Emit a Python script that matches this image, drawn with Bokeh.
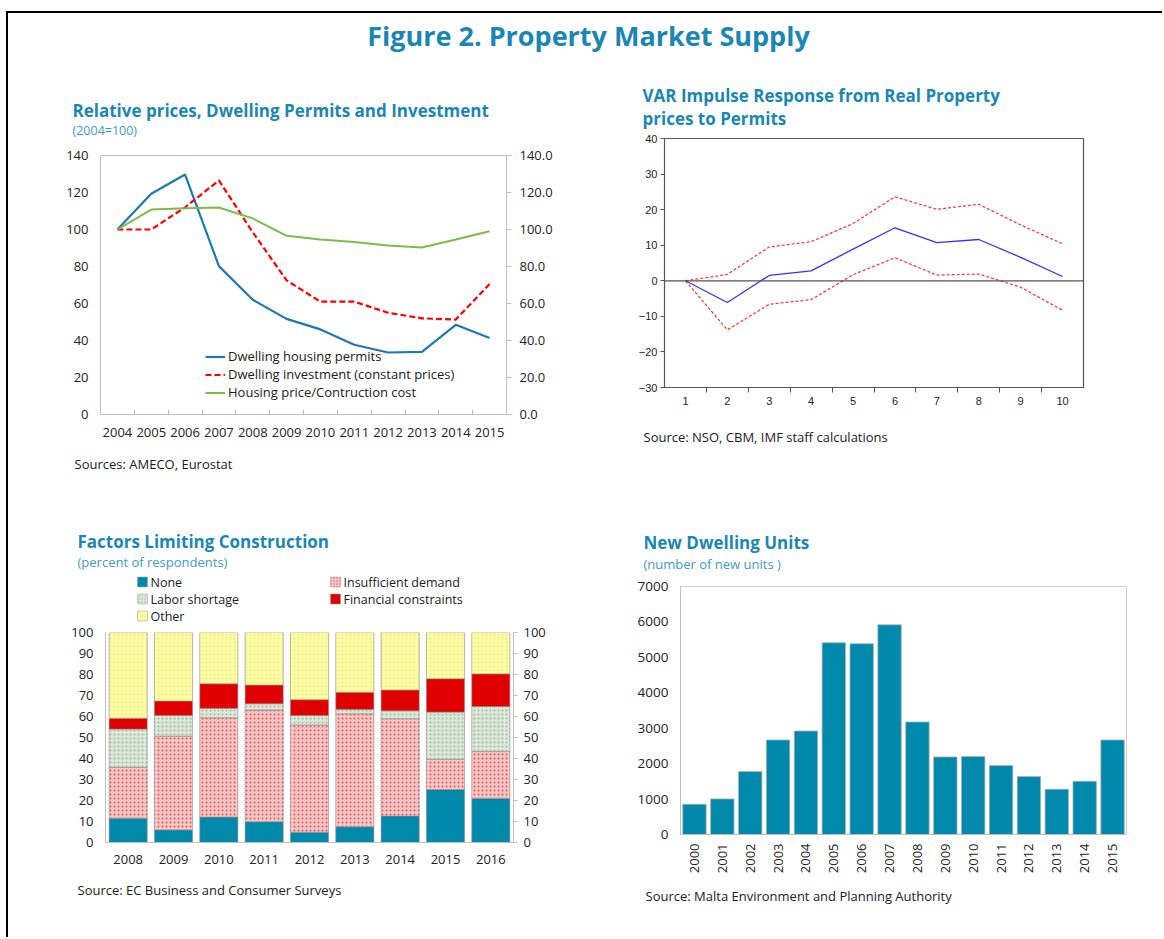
import math
from bokeh.plotting import figure
from bokeh.models import (Range1d, FactorRange, LinearAxis, FixedTicker, Legend, LegendItem,
                          ColumnDataSource, NumeralTickFormatter, Span)
from bokeh.layouts import column, row
from bokeh.embed import file_html
from bokeh.resources import INLINE
from bokeh.core.properties import value

# ---------------- data ----------------
years_a = [2004, 2005, 2006, 2007, 2008, 2009, 2010, 2011, 2012, 2013, 2014, 2015]
permits = [100, 119.3, 129.7, 80.2, 62.0, 51.7, 46.0, 37.7, 33.5, 33.9, 48.5, 41.3]
investment = [100, 100, 112, 126.5, 98.5, 72.5, 61, 61, 55, 52, 51.3, 70.5]
price_cost = [100, 110.8, 111.5, 111.9, 106, 96.6, 94.6, 93.3, 91.4, 90.3, 94.6, 99.1]

steps = [1, 2, 3, 4, 5, 6, 7, 8, 9, 10]
irf = [0, -6.1, 1.5, 2.8, 8.9, 14.9, 10.7, 11.6, 6.6, 1.2]
irf_upper = [0, 1.8, 9.5, 11.0, 16.1, 23.6, 20.1, 21.5, 15.7, 10.4]
irf_lower = [0, -13.8, -6.6, -5.3, 1.7, 6.5, 1.6, 1.9, -1.8, -8.3]

survey_years = ["2008", "2009", "2010", "2011", "2012", "2013", "2014", "2015", "2016"]
none_share = [11.6, 6.0, 12.1, 9.9, 4.9, 7.5, 12.6, 25.2, 21.0]
insufficient = [24.2, 44.6, 47.3, 53.2, 51.1, 53.8, 46.3, 14.4, 22.3]
labor = [18.2, 9.9, 4.5, 3.0, 4.5, 2.1, 3.8, 22.5, 21.5]
financial = [5.2, 6.9, 11.7, 8.9, 7.5, 8.1, 9.9, 15.9, 15.5]
other = [40.8, 32.6, 24.4, 25.0, 32.0, 28.5, 27.4, 22.0, 19.7]
factor_names = ["None", "Insufficient demand", "Labor shortage", "Financial constraints", "Other"]

unit_years = ["2000", "2001", "2002", "2003", "2004", "2005", "2006", "2007",
              "2008", "2009", "2010", "2011", "2012", "2013", "2014", "2015"]
new_units = [855, 1005, 1776, 2668, 2922, 5412, 5384, 5919, 3176, 2189, 2199, 1945, 1635, 1278, 1503, 2668]

# ---------------- styles ----------------
FONT = "Open Sans"
TITLE_C = "#1A87B3"
SUB_C = "#3D9BC9"
TXT_C = "#1a1a1a"
GREY = "#bfbfbf"

C_NONE = "#0089AB"
C_INS = "#F9C9C9"
C_LAB = "#DCE9DA"
C_FIN = "#E00000"
C_OTH = "#FFFFA6"
fills = [C_NONE, C_INS, C_LAB, C_FIN, C_OTH]
hatches = [" ", "dot", "dot", " ", "dot"]
hcolors = ["#ffffff", "#E84C4C", "#9DB99A", "#ffffff", "#E8E880"]

RW = 552  # right column width


def text_fig(w, h):
    f = figure(width=w, height=h, x_range=Range1d(0, w), y_range=Range1d(h, 0),
               x_axis_location=None, y_axis_location=None, min_border=0,
               output_backend="svg", toolbar_location=None)
    f.grid.visible = False
    f.outline_line_color = None
    return f


def put(f, x, y, t, size, color=TXT_C, bold=False, align="left"):
    f.text(x=[x], y=[y], text=[t], text_font=value(FONT), text_font_size=size,
           text_font_style="bold" if bold else "normal", text_color=color,
           text_baseline="middle", text_align=align)


def style_axis(ax, size="13px", font=FONT):
    ax.major_label_text_font = font
    ax.major_label_text_font_size = size
    ax.major_label_text_color = "#222222"
    ax.axis_line_color = GREY
    ax.major_tick_line_color = GREY
    ax.minor_tick_line_color = GREY


# ---------------- header ----------------
header = text_fig(602 + RW, 55)
put(header, 580, 22, "Figure 2. Property Market Supply", "27px", TITLE_C, True, "center")

# ---------------- left column ----------------
L1 = text_fig(602, 72)
put(L1, 64, 42, "Relative prices, Dwelling Permits and Investment", "17px", TITLE_C, True)
put(L1, 64, 62, "(2004=100)", "12.5px", SUB_C)

tl = figure(width=602, height=310, x_range=Range1d(2003.5, 2015.5), y_range=Range1d(0, 140),
            min_border_left=92, min_border_right=104, min_border_top=15, min_border_bottom=36,
            output_backend="svg", toolbar_location=None)
tl.grid.visible = False
tl.outline_line_color = GREY
tl.extra_y_ranges = {"r": Range1d(0, 140)}
yt = list(range(0, 141, 20))
tl.yaxis.ticker = FixedTicker(ticks=yt)
ra = LinearAxis(y_range_name="r", ticker=FixedTicker(ticks=yt), formatter=NumeralTickFormatter(format="0.0"))
tl.add_layout(ra, "right")
for ax in tl.yaxis:
    style_axis(ax)
tl.yaxis[0].major_tick_in = 0
tl.yaxis[0].major_tick_out = 0
tl.yaxis[0].major_label_standoff = 12
ra.major_tick_in = 0
ra.major_tick_out = 5
ra.major_label_standoff = 8
tl.xaxis.ticker = FixedTicker(ticks=years_a, minor_ticks=[y + 0.5 for y in years_a[:-1]])
style_axis(tl.xaxis[0])
tl.xaxis.major_tick_in = 0
tl.xaxis.major_tick_out = 0
tl.xaxis.minor_tick_in = 5
tl.xaxis.minor_tick_out = 0
tl.xaxis.major_label_standoff = 13

r1 = tl.line(years_a, permits, line_color="#1F78B0", line_width=2.2)
r2 = tl.line(years_a, investment, line_color="#FF0000", line_width=2.2, line_dash="6 3")
r3 = tl.line(years_a, price_cost, line_color="#7DBB4A", line_width=2)
leg = Legend(items=[LegendItem(label="Dwelling housing permits", renderers=[r1]),
                    LegendItem(label="Dwelling investment (constant prices)", renderers=[r2]),
                    LegendItem(label="Housing price/Contruction cost", renderers=[r3])],
             location=(105, 13), glyph_width=20, glyph_height=17, label_height=17, spacing=0,
             padding=0, margin=0, label_standoff=3, background_fill_alpha=0, border_line_color=None,
             label_text_font=FONT, label_text_font_size="13px", label_text_color=TXT_C)
tl.add_layout(leg)

L2 = text_fig(602, 174)
put(L2, 66, 13, "Sources: AMECO, Eurostat", "13px")
put(L2, 69, 91, "Factors Limiting Construction", "17px", TITLE_C, True)
put(L2, 69, 111, "(percent of respondents)", "13px", SUB_C)
leg_pos = [(134, 131.5), (327, 131.5), (134, 148.5), (327, 148.5), (134, 165.5)]
for i, (lx, ly) in enumerate(leg_pos):
    L2.rect(x=[lx], y=[ly], width=10, height=10, fill_color=fills[i], line_color="#999999",
            line_width=0.5, hatch_pattern=hatches[i], hatch_color=hcolors[i], hatch_scale=3)
    put(L2, lx + 8, ly, factor_names[i], "12.5px")

src = ColumnDataSource(dict(year=survey_years, a=none_share, b=insufficient, c=labor, d=financial, e=other))
bl = figure(width=602, height=251, x_range=FactorRange(*survey_years), y_range=Range1d(0, 100),
            min_border_left=97, min_border_right=97, min_border_top=8, min_border_bottom=33,
            output_backend="svg", toolbar_location=None)
bl.grid.visible = False
bl.outline_line_color = None
bl.vbar_stack(["a", "b", "c", "d", "e"], x="year", width=0.84, source=src,
              fill_color=fills, line_color="#8a8a8a", line_width=0.6,
              hatch_pattern=hatches, hatch_color=hcolors, hatch_scale=4, hatch_weight=1)
bl.extra_y_ranges = {"r": Range1d(0, 100)}
yt2 = list(range(0, 101, 10))
bl.yaxis.ticker = FixedTicker(ticks=yt2)
ra2 = LinearAxis(y_range_name="r", ticker=FixedTicker(ticks=yt2))
bl.add_layout(ra2, "right")
for ax in bl.yaxis:
    style_axis(ax)
bl.yaxis[0].major_tick_in = 0
bl.yaxis[0].major_tick_out = 0
bl.yaxis[0].major_label_standoff = 12
ra2.major_tick_in = 0
ra2.major_tick_out = 4
ra2.major_label_standoff = 6
style_axis(bl.xaxis[0])
bl.xaxis.major_tick_in = 0
bl.xaxis.major_tick_out = 0
bl.xaxis.major_label_standoff = 12

L3 = text_fig(602, 62)
put(L3, 69, 14, "Source: EC Business and Consumer Surveys", "13px")

left_col = column(row(L1), row(tl), row(L2), row(bl), row(L3))

# ---------------- right column ----------------
R1 = text_fig(RW, 64)
put(R1, 32, 27, "VAR Impulse Response from Real Property", "17px", TITLE_C, True)
put(R1, 32, 50, "prices to Permits", "17px", TITLE_C, True)

tr = figure(width=RW, height=280, x_range=Range1d(0.5, 10.5), y_range=Range1d(-30, 40),
            min_border_left=54, min_border_right=65 + RW - 538, min_border_top=6, min_border_bottom=25,
            output_backend="svg", toolbar_location=None)
tr.grid.visible = False
tr.outline_line_color = "#555555"
tr.outline_line_width = 1.2
tr.yaxis.ticker = FixedTicker(ticks=list(range(-30, 41, 10)))
tr.xaxis.ticker = FixedTicker(ticks=steps, minor_ticks=[s + 0.5 for s in steps[:-1]])
for ax in tr.axis:
    style_axis(ax, "11px", "Liberation Sans")
    ax.axis_line_color = "#555555"
    ax.major_tick_line_color = "#555555"
    ax.minor_tick_line_color = "#555555"
tr.yaxis.major_tick_in = 0
tr.yaxis.major_tick_out = 4
tr.yaxis.minor_tick_out = 0
tr.yaxis.minor_tick_in = 0
tr.yaxis.major_label_standoff = 3
tr.xaxis.major_tick_in = 0
tr.xaxis.major_tick_out = 0
tr.xaxis.minor_tick_in = 0
tr.xaxis.minor_tick_out = 5
tr.xaxis.major_label_standoff = 4
tr.add_layout(Span(location=0, dimension="width", line_color="#555555", line_width=1.2))
tr.line(steps, irf_upper, line_color="#FF3030", line_width=1.2, line_dash="3 2")
tr.line(steps, irf_lower, line_color="#FF3030", line_width=1.2, line_dash="3 2")
tr.line(steps, irf, line_color="#3333FF", line_width=1.3)

R2 = text_fig(RW, 166)
put(R2, 33, 24, "Source: NSO, CBM, IMF staff calculations", "13px")
put(R2, 33, 130, "New Dwelling Units", "17px", TITLE_C, True)
put(R2, 33, 151, "(number of new units )", "13px", SUB_C)

br = figure(width=RW, height=306, x_range=FactorRange(*unit_years), y_range=Range1d(0, 7000),
            min_border_left=70, min_border_right=22 + RW - 538, min_border_top=8, min_border_bottom=50,
            output_backend="svg", toolbar_location=None)
br.grid.visible = False
br.outline_line_color = "#d0d0d0"
br.vbar(x=unit_years, top=new_units, width=0.84, fill_color=C_NONE, line_color="#b0b0b0", line_width=0.8)
br.yaxis.ticker = FixedTicker(ticks=list(range(0, 7001, 1000)))
for ax in br.axis:
    style_axis(ax, "13.5px")
br.yaxis.major_tick_in = 0
br.yaxis.major_tick_out = 0
br.yaxis.major_label_standoff = 12
br.xaxis.major_tick_in = 0
br.xaxis.major_tick_out = 0
br.xaxis.major_label_standoff = 9
br.xaxis.major_label_orientation = math.pi / 2
br.xaxis.major_label_text_font_size = "13px"

R3 = text_fig(RW, 53)
put(R3, 35, 11, "Source: Malta Environment and Planning Authority", "13px")

right_col = column(row(R1), row(tr), row(R2), row(br), row(R3))

page = column(header, row(left_col, right_col), margin=(11, 0, 0, 6),
              styles={"border-left": "2px solid #000000", "border-top": "2px solid #000000"})

open("out.html", "w").write(file_html(page, INLINE))
